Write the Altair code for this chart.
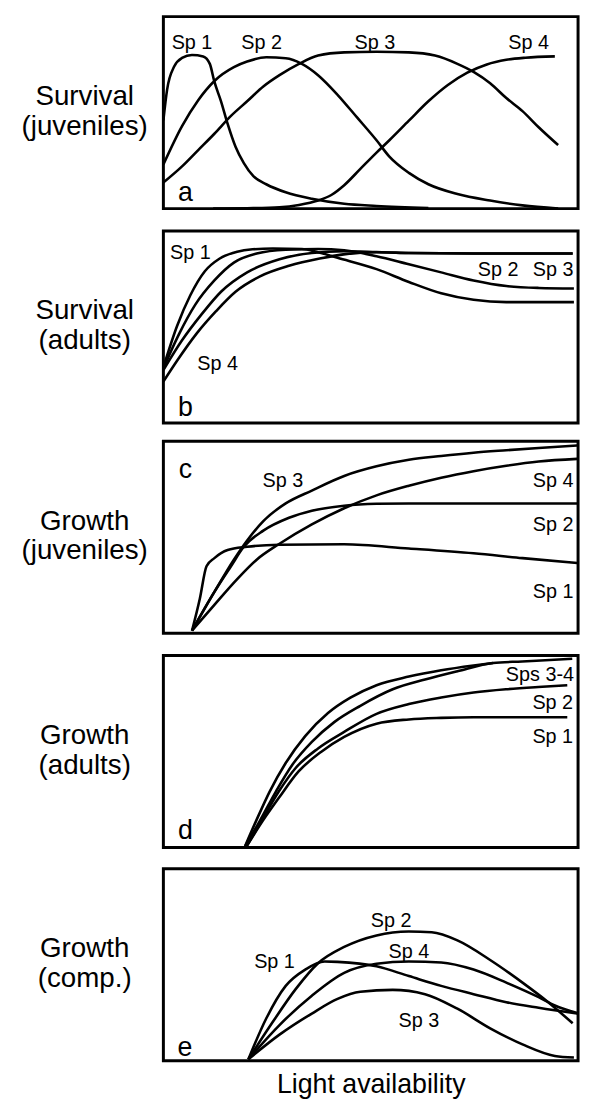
import altair as alt
import pandas as pd

FONT = "Liberation Sans, Arial, sans-serif"
NARROW = "Liberation Sans Narrow, Arial Narrow, Liberation Sans, sans-serif"

row_titles = [["Survival", "(juveniles)"], ["Survival", "(adults)"],
              ["Growth", "(juveniles)"], ["Growth", "(adults)"], ["Growth", "(comp.)"]]
panel_letters = ["a", "b", "c", "d", "e"]
x_title = "Light availability"

# ---- panel a : survival (juveniles)
a_sp1_x = [0, 0.9, 2.6, 4.5, 6.9, 9.6, 11.2, 12.3, 13.9, 15.5, 17.4, 19.4, 21.7, 24.8, 29.5, 35.8, 43.6, 51.4, 63.9]
a_sp1_y = [46, 62, 74, 78.5, 80, 79.3, 75.4, 66.1, 55.9, 44.1, 32.2, 23.7, 16.9, 12.7, 8.5, 5.1, 2.5, 1.4, 0.3]
a_sp2_x = [0, 4.5, 8.4, 12.3, 17.0, 20.2, 24.8, 29.5, 33.4, 37.3, 42.0, 46.7, 51.4, 54.5, 59.2, 63.9, 70.9, 78.8, 86.6, 95.2]
a_sp2_y = [23, 43, 56.5, 66.5, 73.7, 76.6, 78.8, 78.3, 75.4, 69.5, 59.3, 47.5, 35.6, 27.1, 18.6, 12.7, 7.6, 4.2, 1.7, 0]
a_sp3_x = [0, 4.5, 8.4, 12.3, 16.3, 20.2, 24.1, 28.0, 32.7, 37.3, 43.6, 51.4, 59.2, 65.5, 70.9, 74.8, 78.8, 82.7, 86.6, 90.5, 95.2]
a_sp3_y = [13.6, 22.0, 30.5, 39.0, 48.3, 55.9, 63.6, 69.5, 75.4, 79.7, 81.4, 81.7, 81.4, 79.7, 75.4, 71.2, 65.3, 57.6, 50.8, 42.4, 33.1]
a_sp4_x = [12, 20.2, 28.0, 32.7, 37.3, 40.5, 43.6, 47.5, 51.4, 54.5, 59.2, 63.9, 68.6, 73.3, 78.0, 82.7, 87.3, 94.4]
a_sp4_y = [0, 0.2, 0.7, 1.9, 4.2, 7.1, 12.2, 20.7, 29.2, 35.6, 45.8, 55.9, 64.4, 70.8, 75.1, 77.5, 78.6, 79.3]
a_lab_text = ["Sp 1", "Sp 2", "Sp 3", "Sp 4"]
a_lab_x = [6.9, 23.7, 51.0, 88.1]
a_lab_y = [83.1, 83.1, 83.1, 83.1]

# ---- panel b : survival (adults)
b_sp1_x = [0, 3.3, 6.5, 10.0, 13.5, 17.8, 21.5, 26.4, 33.4, 37.3, 42.0, 51.4, 59.2, 67.0, 74.8, 82.7, 99]
b_sp1_y = [29, 50.5, 66.5, 79, 85.5, 89.2, 90.4, 90.8, 90.6, 88.9, 86.0, 80.1, 73.4, 67.5, 64.1, 62.9, 62.9]
b_sp2_x = [0, 3.8, 7.7, 12.3, 17.0, 22.5, 29.5, 37.3, 43.6, 51.4, 59.2, 67.0, 74.8, 82.7, 90.5, 99]
b_sp2_y = [28.5, 46.4, 61.6, 74.2, 83.5, 88.2, 90.2, 90.6, 89.9, 86.8, 82.6, 78.4, 74.2, 71.3, 70.3, 70.0]
b_sp3_x = [0, 4.5, 9.2, 13.9, 20.2, 28.0, 35.8, 43.6, 51.4, 59.2, 74.8, 98.7]
b_sp3_y = [27.5, 43.0, 56.5, 68.3, 78.4, 85.2, 88.5, 89.4, 89.0, 88.5, 88.2, 88.2]
b_sp4_x = [0, 3.5, 8.0, 12.7, 17.4, 23.3, 30.3, 37.7, 43.9, 51.4, 59.2, 74.8, 98.7]
b_sp4_y = [21.5, 33, 46.5, 58.2, 68.3, 76.3, 81.8, 85.6, 87.9, 88.9, 88.5, 88.2, 88.2]
b_lab_text = ["Sp 1", "Sp 2", "Sp 3", "Sp 4"]
b_lab_x = [6.5, 80.7, 94.0, 13.1]
b_lab_y = [85.2, 76.7, 76.7, 27.8]

# ---- panel c : growth (juveniles)
c_sp1_x = [6.9, 8.8, 10.4, 12.3, 15.5, 20.2, 28.0, 43.6, 59.2, 74.8, 86.6, 99.8]
c_sp1_y = [1.3, 18.1, 34.9, 39.1, 43.3, 45.0, 46.1, 46.3, 44.1, 41.6, 39.1, 36.6]
c_sp2_x = [6.9, 12.3, 16.3, 19.4, 24.1, 30.3, 35.8, 43.6, 51.4, 59.2, 99.8]
c_sp2_y = [1.3, 21.5, 34.9, 45.0, 53.4, 60.1, 63.8, 66.4, 67.4, 67.6, 67.6]
c_sp3_x = [6.9, 12.3, 17.0, 20.2, 24.1, 29.5, 35.8, 43.6, 51.4, 59.2, 67.0, 74.8, 82.7, 90.5, 99.8]
c_sp3_y = [1.3, 21.5, 38.3, 48.3, 58.4, 67.6, 74.3, 81.9, 86.9, 90.3, 92.3, 94.0, 95.3, 96.5, 97.8]
c_sp4_x = [6.9, 12.3, 17.8, 22.5, 28.0, 35.8, 43.6, 51.4, 59.2, 67.0, 74.8, 82.7, 90.5, 99.8]
c_sp4_y = [1.3, 14.8, 28.2, 38.3, 46.6, 56.7, 65.1, 71.8, 76.8, 81.0, 84.4, 87.2, 89.4, 90.8]
c_lab_text = ["Sp 3", "Sp 4", "Sp 2", "Sp 1"]
c_lab_x = [28.8, 94.0, 94.0, 94.0]
c_lab_y = [76.0, 76.0, 53.4, 18.1]

# ---- panel d : growth (adults)
d_sp1_x = [20.1, 24.0, 27.9, 32.6, 38.1, 43.6, 51.4, 59.2, 67.0, 74.8, 97.4]
d_sp1_y = [0.7, 14, 26, 39.6, 49.9, 57.6, 64.5, 66.7, 67.5, 67.8, 67.8]
d_sp2_x = [20.1, 23.7, 27.9, 31.9, 37.3, 43.6, 51.4, 59.2, 67.0, 74.8, 82.6, 90.4, 97.4]
d_sp2_y = [0.7, 14, 29.4, 41.4, 51.6, 60.2, 69.6, 74.7, 78.1, 80.7, 82.4, 83.6, 84.5]
d_sp3_x = [19.7, 22.5, 25.6, 29.5, 34.2, 39.7, 45.1, 51.4, 59.2, 67.0, 74.8, 79.5]
d_sp3_y = [0.7, 14.5, 29, 44, 58, 70, 78, 84.5, 89, 92.3, 94.8, 96.1]
d_sp4_x = [19.7, 23.3, 27.2, 31.1, 35.8, 41.2, 47.5, 55.3, 63.1, 70.9, 79.5, 86.5, 98.6]
d_sp4_y = [0.7, 14, 29.4, 43.1, 55, 65.3, 73.8, 82.4, 87.5, 91.8, 96.1, 96.9, 98.3]
d_lab_text = ["Sps 3-4", "Sp 2", "Sp 1"]
d_lab_x = [90.8, 93.9, 93.9]
d_lab_y = [86.7, 72.1, 54.2]

# ---- panel e : growth (competition)
e_sp1_x = [20.5, 24.8, 29.5, 34.2, 38.9, 42.0, 51.4, 59.2, 67.0, 74.8, 82.7, 90.5, 99.8]
e_sp1_y = [0.8, 22.0, 39.0, 47.5, 51.7, 51.5, 49.2, 44.1, 39.0, 34.7, 30.5, 27.6, 24.6]
e_sp2_x = [20.5, 26.4, 31.9, 37.3, 43.6, 51.4, 59.2, 64.7, 70.9, 78.8, 86.6, 92.8, 98.7]
e_sp2_y = [0.8, 20.3, 37.3, 50.8, 59.3, 65.3, 67.3, 66.9, 62.7, 52.5, 40.7, 30.5, 19.5]
e_sp3_x = [20.5, 28.0, 35.8, 42.0, 47.5, 55.3, 63.1, 70.9, 78.8, 86.6, 94.4, 99.0]
e_sp3_y = [0.8, 13.6, 24.6, 32.2, 35.9, 36.9, 34.7, 27.1, 16.9, 8.5, 2.5, 1.7]
e_sp4_x = [20.5, 28.0, 35.8, 43.6, 51.4, 59.2, 67.0, 74.8, 82.7, 90.5, 94.4, 99.8]
e_sp4_y = [0.8, 18.6, 33.9, 45.8, 50.5, 51.7, 51.2, 47.5, 40.7, 33.1, 28.8, 24.9]
e_lab_text = ["Sp 2", "Sp 4", "Sp 1", "Sp 3"]
e_lab_x = [54.9, 59.2, 26.8, 61.6]
e_lab_y = [69.5, 53.4, 48.3, 17.8]

letter_x = [5.3, 5.3, 5.3, 5.3, 5.2]
letter_y = [4.2, 3.4, 81.0, 4.6, 2.5]

panels = [
    ({"Sp 1": (a_sp1_x, a_sp1_y), "Sp 2": (a_sp2_x, a_sp2_y), "Sp 3": (a_sp3_x, a_sp3_y), "Sp 4": (a_sp4_x, a_sp4_y)},
     (a_lab_text, a_lab_x, a_lab_y)),
    ({"Sp 1": (b_sp1_x, b_sp1_y), "Sp 2": (b_sp2_x, b_sp2_y), "Sp 3": (b_sp3_x, b_sp3_y), "Sp 4": (b_sp4_x, b_sp4_y)},
     (b_lab_text, b_lab_x, b_lab_y)),
    ({"Sp 1": (c_sp1_x, c_sp1_y), "Sp 2": (c_sp2_x, c_sp2_y), "Sp 3": (c_sp3_x, c_sp3_y), "Sp 4": (c_sp4_x, c_sp4_y)},
     (c_lab_text, c_lab_x, c_lab_y)),
    ({"Sp 1": (d_sp1_x, d_sp1_y), "Sp 2": (d_sp2_x, d_sp2_y), "Sp 3": (d_sp3_x, d_sp3_y), "Sp 4": (d_sp4_x, d_sp4_y)},
     (d_lab_text, d_lab_x, d_lab_y)),
    ({"Sp 1": (e_sp1_x, e_sp1_y), "Sp 2": (e_sp2_x, e_sp2_y), "Sp 3": (e_sp3_x, e_sp3_y), "Sp 4": (e_sp4_x, e_sp4_y)},
     (e_lab_text, e_lab_x, e_lab_y)),
]

W, H = 419, 194


def make_panel(i, curves, labels):
    rows = []
    for sp, (xs, ys) in curves.items():
        for x, y in zip(xs, ys):
            rows.append({"sp": sp, "light": x, "resp": y})
    df = pd.DataFrame(rows)
    lab_df = pd.DataFrame({"t": labels[0], "light": labels[1], "resp": labels[2]})
    let_df = pd.DataFrame({"t": [panel_letters[i]], "light": [letter_x[i]], "resp": [letter_y[i]]})

    last = i == len(panels) - 1
    if last:
        xaxis = alt.Axis(title=x_title, labels=False, ticks=False, domain=False, grid=False,
                         titleFont=FONT, titleFontSize=27, titleFontWeight="normal",
                         titleColor="black", titlePadding=11)
    else:
        xaxis = None
    yaxis = alt.Axis(title=row_titles[i], labels=False, ticks=False, domain=False, grid=False,
                     titleAngle=0, titleAlign="center", titleBaseline="top",
                     titleX=-80, titleY=H / 2 - 30, titleFont=FONT, titleFontSize=28,
                     titleFontWeight="normal", titleColor="black", titleLineHeight=30)

    xs = alt.Scale(domain=[0, 100], nice=False, zero=False)
    ys = alt.Scale(domain=[0, 100], nice=False, zero=False)

    lines = alt.Chart(df).mark_line(color="black", strokeWidth=2.6, interpolate="monotone").encode(
        x=alt.X("light:Q", scale=xs, axis=xaxis),
        y=alt.Y("resp:Q", scale=ys, axis=yaxis),
        detail="sp:N",
    )
    text = alt.Chart(lab_df).mark_text(font=NARROW, fontSize=20, color="black",
                                       align="center", baseline="alphabetic").encode(
        x=alt.X("light:Q", scale=xs), y=alt.Y("resp:Q", scale=ys), text="t:N")
    letter = alt.Chart(let_df).mark_text(font=FONT, fontSize=27, color="black",
                                         align="center", baseline="alphabetic").encode(
        x=alt.X("light:Q", scale=xs), y=alt.Y("resp:Q", scale=ys), text="t:N")
    return alt.layer(lines, text, letter).properties(width=W, height=H)


charts = [make_panel(i, c, l) for i, (c, l) in enumerate(panels)]
chart = alt.vconcat(*charts, spacing=13.5).properties(
    padding={"left": 11, "top": 1, "right": 0, "bottom": 2}
).configure(
    background="white",
    view=alt.ViewConfig(stroke="black", strokeWidth=3),
)

chart.save("out.html", embed_options={"renderer": "svg", "actions": False})
